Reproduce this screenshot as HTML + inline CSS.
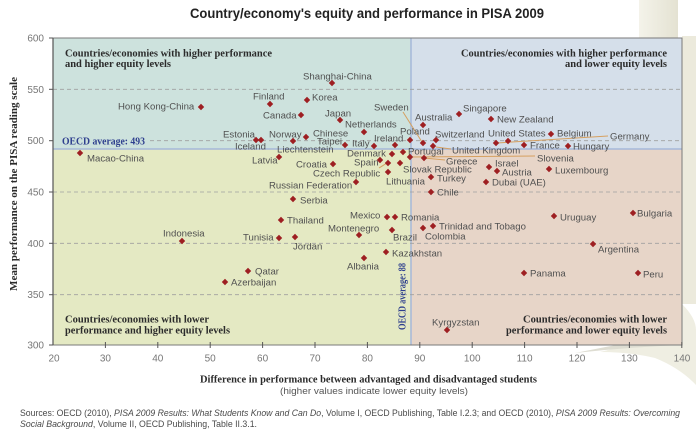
<!DOCTYPE html>
<html><head><meta charset="utf-8"><style>
html,body{margin:0;padding:0;background:#fff;}
svg{display:block;}
.lb{font-family:"Liberation Sans",sans-serif;font-size:9.6px;fill:#505050;}
.qh{font-family:"Liberation Serif",serif;font-weight:bold;font-size:10.5px;fill:#2b2b2b;}
.tk{font-family:"Liberation Sans",sans-serif;font-size:10px;fill:#777;}
</style></head><body>
<svg width="696" height="437" viewBox="0 0 696 437" xmlns="http://www.w3.org/2000/svg">
<defs>
<linearGradient id="bg1" x1="0" y1="0" x2="1" y2="0"><stop offset="0" stop-color="#f4f3ea"/><stop offset="1" stop-color="#e4e2d2"/></linearGradient>
</defs>
<!-- decoration -->
<rect x="639" y="0" width="39" height="38" fill="url(#bg1)"/>
<rect x="682" y="36" width="14" height="268" fill="#eceadc"/>
<path d="M682,304 Q696,318 696,330 L696,385 Q680,368 655,358 Q630,352 600,352 Q640,342 682,332 Z" fill="#efeee2"/>
<path d="M575,353 Q630,342 682,333 L682,345 Q630,347 575,353 Z" fill="#deddd2"/>

<!-- quadrants -->
<rect x="53" y="38" width="358" height="111" fill="#cde2dd"/>
<rect x="411" y="38" width="271" height="111" fill="#d5dfea"/>
<rect x="53" y="149" width="358" height="196" fill="#e4e9c3"/>
<rect x="411" y="149" width="271" height="196" fill="#e7d5c8"/>
<line x1="53" y1="149" x2="682" y2="149" stroke="#a5b8da" stroke-width="1.5"/>
<line x1="411" y1="38" x2="411" y2="345" stroke="#a5b8da" stroke-width="1.5"/>

<!-- gridlines -->
<g stroke="#a0a0a0" stroke-width="0.8" stroke-dasharray="4,3">
<line x1="53" y1="89.3" x2="682" y2="89.3"/>
<line x1="150" y1="140.7" x2="682" y2="140.7"/>
<line x1="53" y1="192" x2="682" y2="192"/>
<line x1="53" y1="243.3" x2="682" y2="243.3"/>
<line x1="53" y1="294.7" x2="682" y2="294.7"/>
</g>

<!-- frame -->
<rect x="53" y="38" width="629" height="307" fill="none" stroke="#7a7a7a" stroke-width="1"/>
<line x1="53" y1="38" x2="53" y2="345" stroke="#555" stroke-width="1.2"/>
<g stroke="#555" stroke-width="1">
<line x1="49" y1="38" x2="53" y2="38"/><line x1="49" y1="89.3" x2="53" y2="89.3"/><line x1="49" y1="140.7" x2="53" y2="140.7"/><line x1="49" y1="192" x2="53" y2="192"/><line x1="49" y1="243.3" x2="53" y2="243.3"/><line x1="49" y1="294.7" x2="53" y2="294.7"/><line x1="49" y1="345" x2="53" y2="345"/>
<line x1="105.4" y1="342" x2="105.4" y2="348"/><line x1="157.8" y1="342" x2="157.8" y2="348"/><line x1="210.2" y1="342" x2="210.2" y2="348"/><line x1="262.6" y1="342" x2="262.6" y2="348"/><line x1="315" y1="342" x2="315" y2="348"/><line x1="367.4" y1="342" x2="367.4" y2="348"/><line x1="419.8" y1="342" x2="419.8" y2="348"/><line x1="472.2" y1="342" x2="472.2" y2="348"/><line x1="524.6" y1="342" x2="524.6" y2="348"/><line x1="577" y1="342" x2="577" y2="348"/><line x1="629.4" y1="342" x2="629.4" y2="348"/><line x1="681.8" y1="342" x2="681.8" y2="348"/>
</g>

<!-- tick labels -->
<g class="tk" text-anchor="end">
<text x="44" y="41.5">600</text><text x="44" y="92.8">550</text><text x="44" y="144.2">500</text><text x="44" y="195.5">450</text><text x="44" y="246.8">400</text><text x="44" y="298.2">350</text><text x="44" y="348.5">300</text>
</g>
<g class="tk" text-anchor="middle">
<text x="54" y="361.5">20</text><text x="105.4" y="361.5">30</text><text x="157.8" y="361.5">40</text><text x="210.2" y="361.5">50</text><text x="262.6" y="361.5">60</text><text x="315" y="361.5">70</text><text x="367.4" y="361.5">80</text><text x="419.8" y="361.5">90</text><text x="472.2" y="361.5">100</text><text x="524.6" y="361.5">110</text><text x="577" y="361.5">120</text><text x="629.4" y="361.5">130</text><text x="682" y="361.5">140</text>
</g>

<!-- title -->
<text x="190" y="18" font-family="Liberation Sans,sans-serif" font-weight="bold" font-size="13.5" fill="#222" textLength="354" lengthAdjust="spacingAndGlyphs">Country/economy's equity and performance in PISA 2009</text>

<!-- quadrant headers -->
<text class="qh" x="65" y="56.5" textLength="207" lengthAdjust="spacingAndGlyphs">Countries/economies with higher performance</text>
<text class="qh" x="65" y="67" textLength="106" lengthAdjust="spacingAndGlyphs">and higher equity levels</text>
<text class="qh" x="461" y="56.5" textLength="206" lengthAdjust="spacingAndGlyphs">Countries/economies with higher performance</text>
<text class="qh" x="565" y="67" textLength="102" lengthAdjust="spacingAndGlyphs">and lower equity levels</text>
<text class="qh" x="65" y="322.5" textLength="144" lengthAdjust="spacingAndGlyphs">Countries/economies with lower</text>
<text class="qh" x="65" y="333.5" textLength="165" lengthAdjust="spacingAndGlyphs">performance and higher equity levels</text>
<text class="qh" x="523" y="322.5" textLength="144" lengthAdjust="spacingAndGlyphs">Countries/economies with lower</text>
<text class="qh" x="506" y="333.5" textLength="161" lengthAdjust="spacingAndGlyphs">performance and lower equity levels</text>

<!-- OECD averages -->
<rect x="60" y="134" width="88" height="13" fill="#cde2dd"/>
<text x="62" y="144.5" font-family="Liberation Serif,serif" font-weight="bold" font-size="10.5" fill="#2e3f8e" textLength="83" lengthAdjust="spacingAndGlyphs">OECD average: 493</text>
<text transform="translate(405.5,330) rotate(-90)" x="0" y="0" font-family="Liberation Serif,serif" font-weight="bold" font-size="10.5" fill="#2e3f8e" textLength="67" lengthAdjust="spacingAndGlyphs">OECD average: 88</text>

<!-- leader lines -->
<g stroke="#d6a060" stroke-width="1" fill="none">
<line x1="403" y1="112" x2="422" y2="142"/>
<line x1="436" y1="147" x2="451" y2="149"/>
<line x1="497" y1="143" x2="608" y2="136"/>
<line x1="410" y1="157" x2="535" y2="156"/>
<line x1="424" y1="158" x2="445" y2="160"/>
<line x1="379" y1="168" x2="387" y2="163"/>
</g>

<!-- markers -->
<g fill="#9e1f22">
<path d="M0,-3.2L3.2,0L0,3.2L-3.2,0Z" transform="translate(332,83)"/>
<path d="M0,-3.2L3.2,0L0,3.2L-3.2,0Z" transform="translate(201,107)"/>
<path d="M0,-3.2L3.2,0L0,3.2L-3.2,0Z" transform="translate(270,104)"/>
<path d="M0,-3.2L3.2,0L0,3.2L-3.2,0Z" transform="translate(307,100)"/>
<path d="M0,-3.2L3.2,0L0,3.2L-3.2,0Z" transform="translate(301,115)"/>
<path d="M0,-3.2L3.2,0L0,3.2L-3.2,0Z" transform="translate(340,120)"/>
<path d="M0,-3.2L3.2,0L0,3.2L-3.2,0Z" transform="translate(364,132)"/>
<path d="M0,-3.2L3.2,0L0,3.2L-3.2,0Z" transform="translate(423,125)"/>
<path d="M0,-3.2L3.2,0L0,3.2L-3.2,0Z" transform="translate(459,114)"/>
<path d="M0,-3.2L3.2,0L0,3.2L-3.2,0Z" transform="translate(491,119)"/>
<path d="M0,-3.2L3.2,0L0,3.2L-3.2,0Z" transform="translate(256,140)"/>
<path d="M0,-3.2L3.2,0L0,3.2L-3.2,0Z" transform="translate(261,140)"/>
<path d="M0,-3.2L3.2,0L0,3.2L-3.2,0Z" transform="translate(293,141)"/>
<path d="M0,-3.2L3.2,0L0,3.2L-3.2,0Z" transform="translate(306,137)"/>
<path d="M0,-3.2L3.2,0L0,3.2L-3.2,0Z" transform="translate(345,145)"/>
<path d="M0,-3.2L3.2,0L0,3.2L-3.2,0Z" transform="translate(374,146)"/>
<path d="M0,-3.2L3.2,0L0,3.2L-3.2,0Z" transform="translate(395,145)"/>
<path d="M0,-3.2L3.2,0L0,3.2L-3.2,0Z" transform="translate(410,140)"/>
<path d="M0,-3.2L3.2,0L0,3.2L-3.2,0Z" transform="translate(423,143)"/>
<path d="M0,-3.2L3.2,0L0,3.2L-3.2,0Z" transform="translate(436,140)"/>
<path d="M0,-3.2L3.2,0L0,3.2L-3.2,0Z" transform="translate(433,146)"/>
<path d="M0,-3.2L3.2,0L0,3.2L-3.2,0Z" transform="translate(392,154)"/>
<path d="M0,-3.2L3.2,0L0,3.2L-3.2,0Z" transform="translate(403,152)"/>
<path d="M0,-3.2L3.2,0L0,3.2L-3.2,0Z" transform="translate(380,160)"/>
<path d="M0,-3.2L3.2,0L0,3.2L-3.2,0Z" transform="translate(388,163)"/>
<path d="M0,-3.2L3.2,0L0,3.2L-3.2,0Z" transform="translate(400,163)"/>
<path d="M0,-3.2L3.2,0L0,3.2L-3.2,0Z" transform="translate(410,157)"/>
<path d="M0,-3.2L3.2,0L0,3.2L-3.2,0Z" transform="translate(424,158)"/>
<path d="M0,-3.2L3.2,0L0,3.2L-3.2,0Z" transform="translate(279,157)"/>
<path d="M0,-3.2L3.2,0L0,3.2L-3.2,0Z" transform="translate(333,164)"/>
<path d="M0,-3.2L3.2,0L0,3.2L-3.2,0Z" transform="translate(388,172)"/>
<path d="M0,-3.2L3.2,0L0,3.2L-3.2,0Z" transform="translate(356,182)"/>
<path d="M0,-3.2L3.2,0L0,3.2L-3.2,0Z" transform="translate(431,177)"/>
<path d="M0,-3.2L3.2,0L0,3.2L-3.2,0Z" transform="translate(431,192)"/>
<path d="M0,-3.2L3.2,0L0,3.2L-3.2,0Z" transform="translate(293,199)"/>
<path d="M0,-3.2L3.2,0L0,3.2L-3.2,0Z" transform="translate(281,220)"/>
<path d="M0,-3.2L3.2,0L0,3.2L-3.2,0Z" transform="translate(387,217)"/>
<path d="M0,-3.2L3.2,0L0,3.2L-3.2,0Z" transform="translate(395,217)"/>
<path d="M0,-3.2L3.2,0L0,3.2L-3.2,0Z" transform="translate(359,235)"/>
<path d="M0,-3.2L3.2,0L0,3.2L-3.2,0Z" transform="translate(392,230)"/>
<path d="M0,-3.2L3.2,0L0,3.2L-3.2,0Z" transform="translate(433,226)"/>
<path d="M0,-3.2L3.2,0L0,3.2L-3.2,0Z" transform="translate(423,228)"/>
<path d="M0,-3.2L3.2,0L0,3.2L-3.2,0Z" transform="translate(279,238)"/>
<path d="M0,-3.2L3.2,0L0,3.2L-3.2,0Z" transform="translate(295,237)"/>
<path d="M0,-3.2L3.2,0L0,3.2L-3.2,0Z" transform="translate(182,241)"/>
<path d="M0,-3.2L3.2,0L0,3.2L-3.2,0Z" transform="translate(248,271)"/>
<path d="M0,-3.2L3.2,0L0,3.2L-3.2,0Z" transform="translate(225,282)"/>
<path d="M0,-3.2L3.2,0L0,3.2L-3.2,0Z" transform="translate(386,252)"/>
<path d="M0,-3.2L3.2,0L0,3.2L-3.2,0Z" transform="translate(364,258)"/>
<path d="M0,-3.2L3.2,0L0,3.2L-3.2,0Z" transform="translate(593,244)"/>
<path d="M0,-3.2L3.2,0L0,3.2L-3.2,0Z" transform="translate(524,273)"/>
<path d="M0,-3.2L3.2,0L0,3.2L-3.2,0Z" transform="translate(638,273)"/>
<path d="M0,-3.2L3.2,0L0,3.2L-3.2,0Z" transform="translate(447,330)"/>
<path d="M0,-3.2L3.2,0L0,3.2L-3.2,0Z" transform="translate(554,216)"/>
<path d="M0,-3.2L3.2,0L0,3.2L-3.2,0Z" transform="translate(633,213)"/>
<path d="M0,-3.2L3.2,0L0,3.2L-3.2,0Z" transform="translate(489,167)"/>
<path d="M0,-3.2L3.2,0L0,3.2L-3.2,0Z" transform="translate(497,171)"/>
<path d="M0,-3.2L3.2,0L0,3.2L-3.2,0Z" transform="translate(549,169)"/>
<path d="M0,-3.2L3.2,0L0,3.2L-3.2,0Z" transform="translate(486,182)"/>
<path d="M0,-3.2L3.2,0L0,3.2L-3.2,0Z" transform="translate(496,143)"/>
<path d="M0,-3.2L3.2,0L0,3.2L-3.2,0Z" transform="translate(508,141)"/>
<path d="M0,-3.2L3.2,0L0,3.2L-3.2,0Z" transform="translate(524,145)"/>
<path d="M0,-3.2L3.2,0L0,3.2L-3.2,0Z" transform="translate(568,146)"/>
<path d="M0,-3.2L3.2,0L0,3.2L-3.2,0Z" transform="translate(551,134)"/>
<path d="M0,-3.2L3.2,0L0,3.2L-3.2,0Z" transform="translate(80,153)"/>
</g>

<!-- labels -->
<g class="lb">
<text x="303" y="79.5">Shanghai-China</text>
<text x="118" y="109.5">Hong Kong-China</text>
<text x="253" y="99.5">Finland</text>
<text x="312" y="100.5">Korea</text>
<text x="263" y="118.5">Canada</text>
<text x="325" y="116.5">Japan</text>
<text x="345" y="127.5">Netherlands</text>
<text x="374" y="110.5">Sweden</text>
<text x="415" y="120.5">Australia</text>
<text x="463" y="111.5">Singapore</text>
<text x="497" y="122.5">New Zealand</text>
<text x="223" y="137.5">Estonia</text>
<text x="235" y="149.5">Iceland</text>
<text x="269" y="137.5">Norway</text>
<text x="313" y="136.5">Chinese</text>
<text x="317" y="144.5">Taipei</text>
<text x="277" y="152.5">Liechtenstein</text>
<text x="352" y="146.5">Italy</text>
<text x="374" y="141.5">Ireland</text>
<text x="400" y="134.5">Poland</text>
<text x="435" y="137.5">Switzerland</text>
<text x="488" y="136.5">United States</text>
<text x="557" y="136.5">Belgium</text>
<text x="610" y="139.5">Germany</text>
<text x="530" y="148.5">France</text>
<text x="573" y="149.5">Hungary</text>
<text x="452" y="153.5">United Kingdom</text>
<text x="347" y="156.5">Denmark</text>
<text x="408" y="154.5">Portugal</text>
<text x="252" y="163.5">Latvia</text>
<text x="296" y="167.5">Croatia</text>
<text x="354" y="165.5">Spain</text>
<text x="446" y="164.5">Greece</text>
<text x="537" y="161.5">Slovenia</text>
<text x="403" y="172.5">Slovak Republic</text>
<text x="495" y="166.5">Israel</text>
<text x="502" y="175.5">Austria</text>
<text x="555" y="173.5">Luxembourg</text>
<text x="313" y="176.5">Czech Republic</text>
<text x="386" y="184.5">Lithuania</text>
<text x="437" y="181.5">Turkey</text>
<text x="492" y="185.5">Dubai (UAE)</text>
<text x="269" y="188.5">Russian Federation</text>
<text x="437" y="195.5">Chile</text>
<text x="300" y="203.5">Serbia</text>
<text x="350" y="218.5">Mexico</text>
<text x="401" y="220.5">Romania</text>
<text x="560" y="220.5">Uruguay</text>
<text x="637" y="216.5">Bulgaria</text>
<text x="287" y="223.5">Thailand</text>
<text x="439" y="229.5">Trinidad and Tobago</text>
<text x="328" y="231.5">Montenegro</text>
<text x="393" y="240.5">Brazil</text>
<text x="425" y="239.5">Colombia</text>
<text x="163" y="236.5">Indonesia</text>
<text x="243" y="240.5">Tunisia</text>
<text x="293" y="249.5">Jordan</text>
<text x="598" y="252.5">Argentina</text>
<text x="392" y="256.5">Kazakhstan</text>
<text x="347" y="269.5">Albania</text>
<text x="255" y="274.5">Qatar</text>
<text x="530" y="276.5">Panama</text>
<text x="643" y="277.5">Peru</text>
<text x="231" y="285.5">Azerbaijan</text>
<text x="432" y="325.5">Kyrgyzstan</text>
<text x="87" y="161.5">Macao-China</text>
</g>

<!-- axis titles -->
<text transform="translate(17,184) rotate(-90)" text-anchor="middle" font-family="Liberation Serif,serif" font-weight="bold" font-size="10.5" fill="#2b2b2b" textLength="214" lengthAdjust="spacingAndGlyphs">Mean performance on the PISA reading scale</text>
<text x="200" y="382.5" font-family="Liberation Serif,serif" font-weight="bold" font-size="10.5" fill="#2b2b2b" textLength="337" lengthAdjust="spacingAndGlyphs">Difference in performance between advantaged and disadvantaged students</text>
<text x="280" y="394" font-family="Liberation Sans,sans-serif" font-size="9.5" fill="#555" textLength="188" lengthAdjust="spacingAndGlyphs">(higher values indicate lower equity levels)</text>

<!-- source -->
<text x="20" y="416" font-family="Liberation Sans,sans-serif" font-size="9" fill="#4a4a4a" textLength="660" lengthAdjust="spacingAndGlyphs">Sources: OECD (2010), <tspan font-style="italic">PISA 2009 Results: What Students Know and Can Do</tspan>, Volume I, OECD Publishing, Table I.2.3; and OECD (2010), <tspan font-style="italic">PISA 2009 Results: Overcoming</tspan></text>
<text x="20" y="427" font-family="Liberation Sans,sans-serif" font-size="9" fill="#4a4a4a" textLength="237" lengthAdjust="spacingAndGlyphs"><tspan font-style="italic">Social Background</tspan>, Volume II, OECD Publishing, Table II.3.1.</text>
</svg>
</body></html>
